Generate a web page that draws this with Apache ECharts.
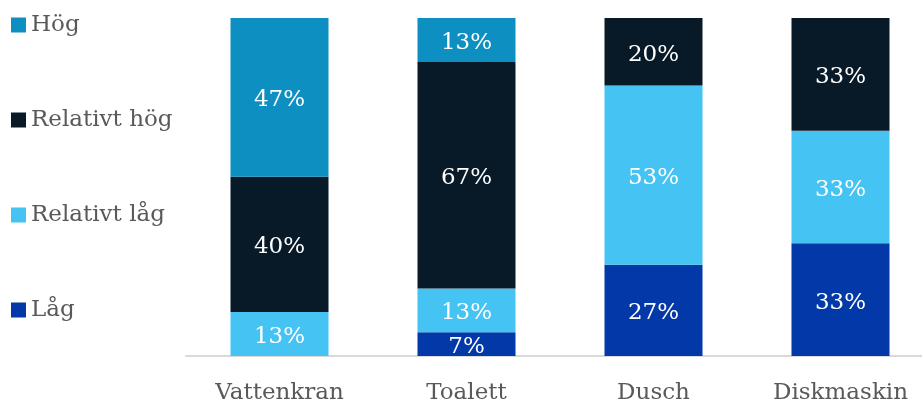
<!DOCTYPE html>
<html>
<head>
<meta charset="utf-8">
<script src="https://cdn.jsdelivr.net/npm/echarts@6/dist/echarts.min.js"></script>
<style>
  html, body { margin: 0; padding: 0; background: #fff; }
  #chart { width: 922px; height: 405px; }
</style>
</head>
<body>
<div id="chart"></div>
<script>
var categories = ['Vattenkran', 'Toalett', 'Dusch', 'Diskmaskin'];
var lag = [0, 7, 27, 33];
var relLag = [13, 13, 53, 33];
var relHog = [40, 67, 20, 33];
var hog = [47, 13, 0, 0];

var font = '"DejaVu Serif", serif';
var totals = categories.map(function (c, i) {
  return lag[i] + relLag[i] + relHog[i] + hog[i];
});

function mk(name, vals, color) {
  return {
    name: name,
    type: 'bar',
    stack: 'all',
    barWidth: 98,
    itemStyle: { color: color },
    label: {
      show: true,
      position: 'inside',
      offset: [0, 3],
      color: '#fff',
      fontFamily: font,
      fontSize: 23,
      formatter: function (p) {
        return vals[p.dataIndex] ? vals[p.dataIndex] + '%' : '';
      }
    },
    data: vals.map(function (v, i) { return v / totals[i] * 100; })
  };
}

var chart = echarts.init(document.getElementById('chart'));
chart.setOption({
  animation: false,
  legend: {
    orient: 'vertical',
    left: 6,
    top: 8,
    itemWidth: 15,
    itemHeight: 15,
    itemGap: 71,
    icon: 'rect',
    data: ['Hög', 'Relativt hög', 'Relativt låg', 'Låg'],
    textStyle: { fontFamily: font, fontSize: 23, color: '#595959', lineHeight: 24 }
  },
  grid: { left: 186, width: 748, top: 18, bottom: 49, outerBoundsMode: 'none' },
  xAxis: {
    type: 'category',
    data: categories,
    axisLine: { lineStyle: { color: '#d9d9d9', width: 2 } },
    axisTick: { show: false },
    axisLabel: { fontFamily: font, fontSize: 23, color: '#595959', margin: 26 }
  },
  yAxis: { type: 'value', min: 0, max: 100, show: false, splitLine: { show: false } },
  series: [
    mk('Låg', lag, '#0238a8'),
    mk('Relativt låg', relLag, '#45c3f3'),
    mk('Relativt hög', relHog, '#081a28'),
    mk('Hög', hog, '#0e8fc2')
  ]
});
</script>
</body>
</html>
